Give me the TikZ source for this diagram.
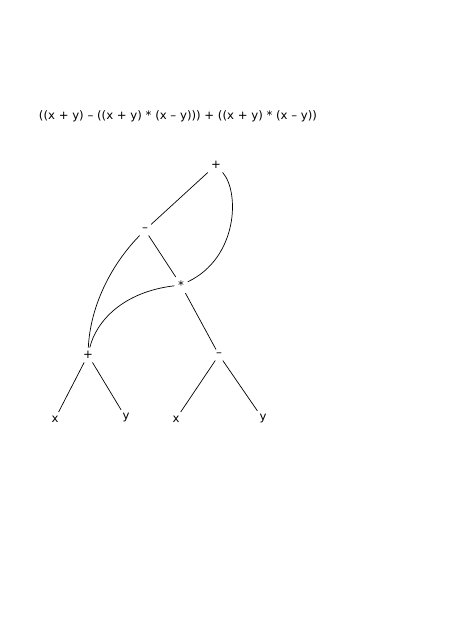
\documentclass[tikz,border=0pt]{standalone}
\usepackage{fontspec}
\setmainfont{DejaVu Sans}
\usepackage{tikz}
\usetikzlibrary{positioning}

\begin{document}
\begin{tikzpicture}[
  x=0.03cm, y=-0.03cm,
  op/.style={inner sep=3pt,font=\fontsize{10}{12}\selectfont},
  leaf/.style={inner sep=3pt,font=\fontsize{10}{12}\selectfont},
  edge/.style={semithick}
]
  \useasboundingbox (0,0) rectangle (457,639);

  % Expression
  \node[font=\fontsize{10}{12}\selectfont] (expr) at (178,116)
    {((x + y) – ((x + y) * (x – y))) + ((x + y) * (x – y))};

  % Shared tree
  \node[op]   (plus)  at (216,165) {+};
  \node[op]   (minus) at (145,230) {–};
  \node[op]   (times) at (181,285) {*};
  \node[op]   (sum)   at (88,355)  {+};
  \node[op]   (diff)  at (219,355) {–};
  \node[leaf] (x1) at (55,419)  {x};
  \node[leaf] (y1) at (126,418) {y};
  \node[leaf] (x2) at (176,419) {x};
  \node[leaf] (y2) at (263,419) {y};

  \draw[edge] (plus) -- (minus);
  \draw[edge] (plus) .. controls (240,192) and (238,258) .. (times);
  \draw[edge] (minus) -- (times);
  \draw[edge] (minus) .. controls (108,268) and (90,310) .. (sum);
  \draw[edge] (times) .. controls (122,292) and (96,322) .. (sum);
  \draw[edge] (times) -- (diff);
  \foreach \t in {x1,y1}
    \draw[edge] (sum) -- (\t);
  \foreach \t in {x2,y2}
    \draw[edge] (diff) -- (\t);
\end{tikzpicture}
\end{document}
